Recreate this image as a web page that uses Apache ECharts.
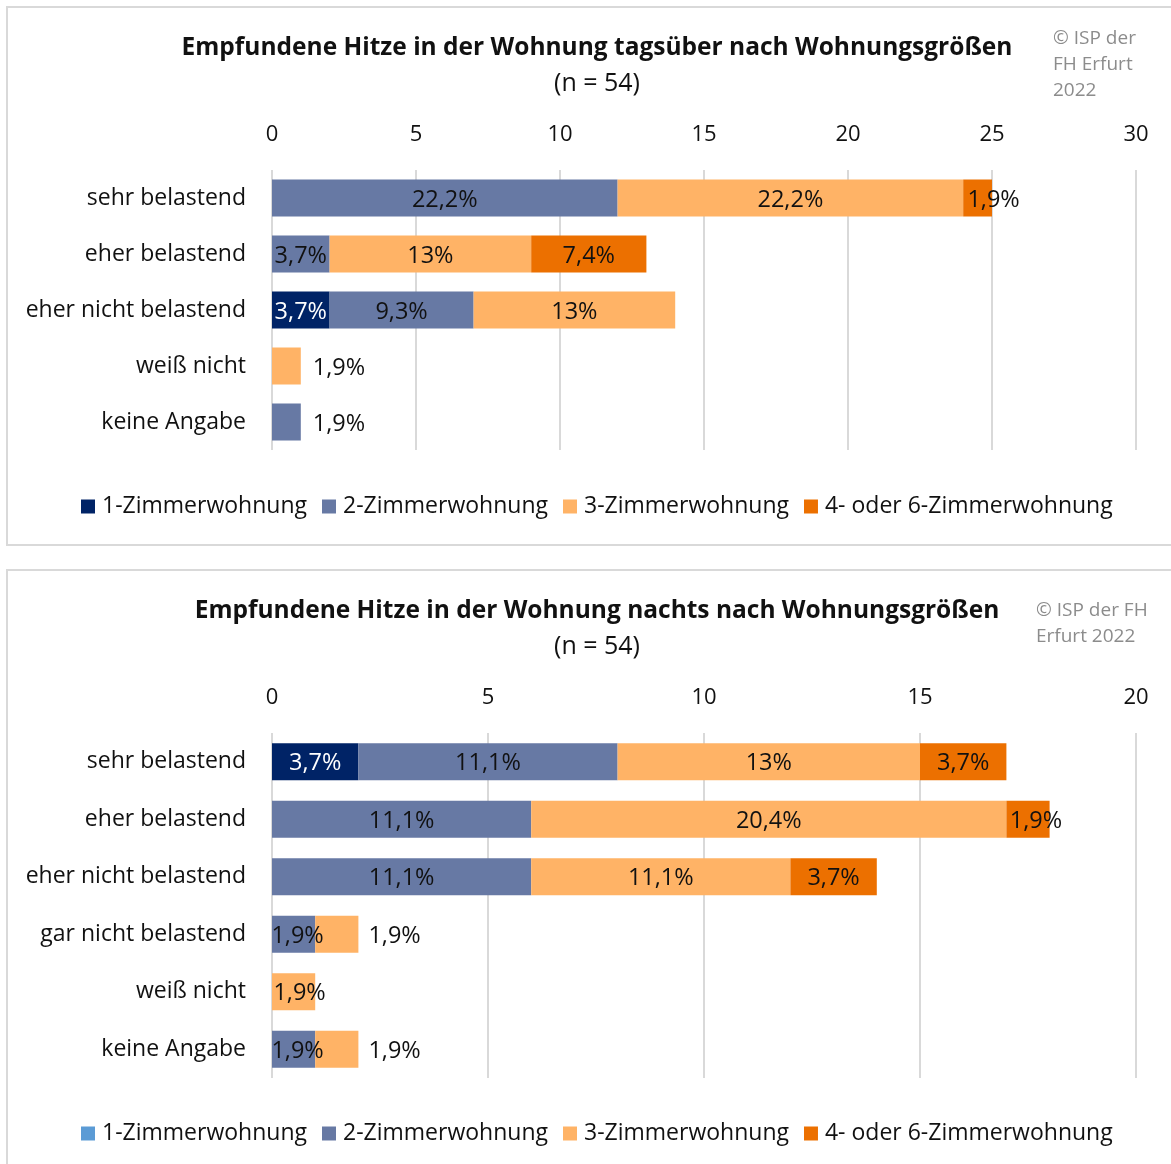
<!DOCTYPE html>
<html><head><meta charset="utf-8">
<script src="https://cdn.jsdelivr.net/npm/echarts@6/dist/echarts.min.js"></script>
<style>html,body{margin:0;padding:0;background:#fff;}#c{width:1171px;height:1164px;}</style>
</head><body><div id="c"></div>
<script>
// ---- data ----
const N = 54;
const seriesNames = ['1-Zimmerwohnung', '2-Zimmerwohnung', '3-Zimmerwohnung', '4- oder 6-Zimmerwohnung'];
const dayCategories = ['sehr belastend', 'eher belastend', 'eher nicht belastend', 'weiß nicht', 'keine Angabe'];
const day1Z = [0, 0, 2, 0, 0];
const day2Z = [12, 2, 5, 0, 1];
const day3Z = [12, 7, 7, 1, 0];
const day4Z = [1, 4, 0, 0, 0];
const dayTicks = [0, 30, 5];
const nightCategories = ['sehr belastend', 'eher belastend', 'eher nicht belastend', 'gar nicht belastend', 'weiß nicht', 'keine Angabe'];
const night1Z = [2, 0, 0, 0, 0, 0];
const night2Z = [6, 6, 6, 1, 0, 1];
const night3Z = [7, 11, 6, 1, 1, 1];
const night4Z = [2, 1, 2, 0, 0, 0];
const nightTicks = [0, 20, 5];
const dayTitle = 'Empfundene Hitze in der Wohnung tagsüber nach Wohnungsgrößen';
const nightTitle = 'Empfundene Hitze in der Wohnung nachts nach Wohnungsgrößen';
const subTitle = '(n = 54)';
const dayCopy = '© ISP der\nFH Erfurt\n2022';
const nightCopy = '© ISP der FH\nErfurt 2022';

// ---- style ----
const FONT = '"Open Sans", sans-serif';
const colors = ['#002366', '#6779A4', '#FFB366', '#EC7000'];
const labelColors = ['#fff', '#111', '#111', '#111'];
const legendNightColors = ['#5B9BD5', '#6779A4', '#FFB366', '#EC7000'];

function pct(v) {
  if (!v) return '';
  let s = (Math.round(v / N * 1000) / 10).toFixed(1);
  if (s.endsWith('.0')) s = s.slice(0, -2);
  return s.replace('.', ',') + '%';
}

const dayTweaks = {
  '3-0': {offset: [16, 2]},
  '2-3': {position: 'right', distance: 12},
  '1-4': {position: 'right', distance: 12}
};
const nightTweaks = {
  '3-1': {offset: [8, 2]},
  '1-3': {offset: [4, 2]},
  '2-3': {position: 'right', distance: 10},
  '2-4': {offset: [6, 2]},
  '1-5': {offset: [4, 2]},
  '2-5': {position: 'right', distance: 10}
};

function buildSeries(arrs, axisIdx, stack, tweaks) {
  return arrs.map((arr, si) => ({
    name: seriesNames[si],
    type: 'bar',
    stack: stack,
    xAxisIndex: axisIdx,
    yAxisIndex: axisIdx,
    barWidth: 37,
    itemStyle: {color: colors[si]},
    label: {
      show: true, position: 'inside', offset: [0, 2],
      color: labelColors[si], fontFamily: FONT, fontSize: 23.5,
      formatter: p => pct(p.value)
    },
    emphasis: {disabled: true},
    data: arr.map((v, ci) => {
      const t = tweaks[si + '-' + ci];
      if (!t) return v;
      const lab = Object.assign({}, t);
      if (t.position === 'right') { lab.color = '#111'; lab.offset = [0, 2]; }
      return {value: v, label: lab};
    })
  }));
}

function xAxis(ticks, gridIdx) {
  return {
    type: 'value', gridIndex: gridIdx, position: 'top',
    min: ticks[0], max: ticks[1], interval: ticks[2],
    axisLine: {show: false}, axisTick: {show: false},
    splitLine: {lineStyle: {color: '#d9d9d9', width: 2}},
    axisLabel: {color: '#111', fontFamily: FONT, fontSize: 22, margin: 24}
  };
}
function yAxis(cats, gridIdx) {
  return {
    type: 'category', gridIndex: gridIdx, inverse: true, data: cats,
    axisLine: {show: false}, axisTick: {show: false},
    axisLabel: {color: '#111', fontFamily: FONT, fontSize: 23, margin: 26}
  };
}

const chart = echarts.init(document.getElementById('c'));
chart.setOption({
  animation: false,
  graphic: [
    {type: 'rect', shape: {x: 7, y: 7, width: 1170, height: 538}, style: {fill: 'none', stroke: '#d9d9d9', lineWidth: 2}},
    {type: 'rect', shape: {x: 7, y: 570, width: 1170, height: 620}, style: {fill: 'none', stroke: '#d9d9d9', lineWidth: 2}}
  ],
  title: [
    {text: dayTitle, subtext: subTitle, left: 592, top: 31, textAlign: 'center', itemGap: 10,
     textStyle: {fontFamily: FONT, fontSize: 24.5, fontWeight: 'bold', color: '#111'},
     subtextStyle: {fontFamily: FONT, fontSize: 25, color: '#111'}},
    {text: dayCopy, left: 1048, top: 21,
     textStyle: {fontFamily: FONT, fontSize: 19, fontWeight: 'normal', color: '#8c8c8c', lineHeight: 26}},
    {text: nightTitle, subtext: subTitle, left: 592, top: 594, textAlign: 'center', itemGap: 10,
     textStyle: {fontFamily: FONT, fontSize: 24.5, fontWeight: 'bold', color: '#111'},
     subtextStyle: {fontFamily: FONT, fontSize: 25, color: '#111'}},
    {text: nightCopy, left: 1031, top: 593,
     textStyle: {fontFamily: FONT, fontSize: 19, fontWeight: 'normal', color: '#8c8c8c', lineHeight: 26}}
  ],
  legend: [
    {left: 76, top: 490, itemWidth: 14, itemHeight: 14, itemGap: 15, icon: 'rect',
     selectedMode: false,
     textStyle: {fontFamily: FONT, fontSize: 23, color: '#111', padding: [0, 0, 0, 2]},
     data: seriesNames.map((n, i) => ({name: n, itemStyle: {color: colors[i]}}))},
    {left: 76, top: 1117, itemWidth: 14, itemHeight: 14, itemGap: 15, icon: 'rect',
     selectedMode: false,
     textStyle: {fontFamily: FONT, fontSize: 23, color: '#111', padding: [0, 0, 0, 2]},
     data: seriesNames.map((n, i) => ({name: n, itemStyle: {color: legendNightColors[i]}}))}
  ],
  grid: [
    {left: 272, right: 35, top: 170, height: 280},
    {left: 272, right: 35, top: 733, height: 345}
  ],
  xAxis: [xAxis(dayTicks, 0), xAxis(nightTicks, 1)],
  yAxis: [yAxis(dayCategories, 0), yAxis(nightCategories, 1)],
  series: [].concat(
    buildSeries([day1Z, day2Z, day3Z, day4Z], 0, 'day', dayTweaks),
    buildSeries([night1Z, night2Z, night3Z, night4Z], 1, 'night', nightTweaks)
  )
});
</script></body></html>
